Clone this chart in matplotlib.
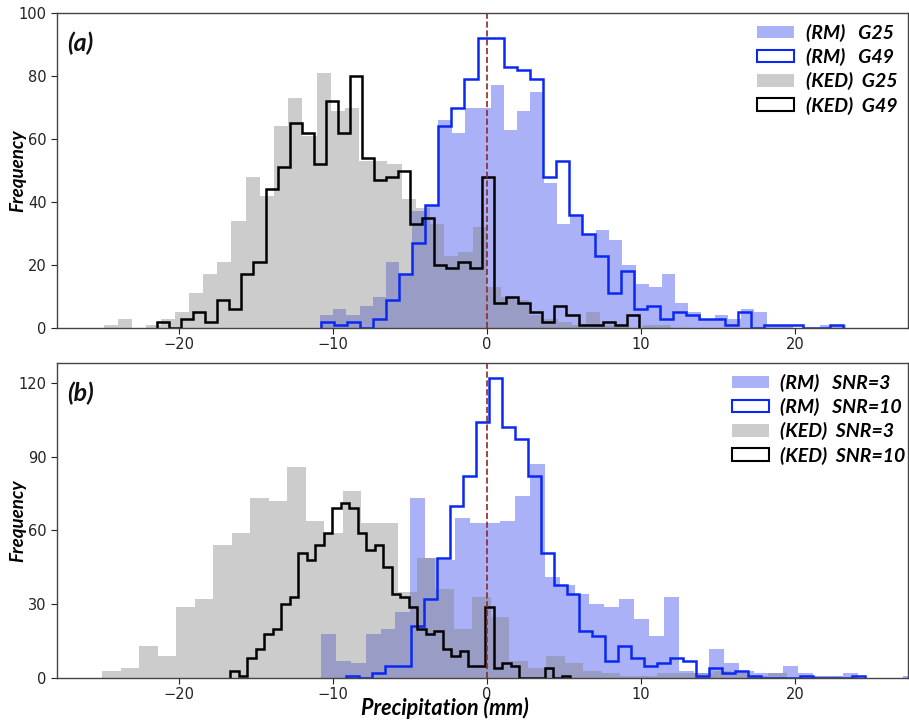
import numpy as np
import matplotlib
matplotlib.use("Agg")
import matplotlib.pyplot as plt
from matplotlib.patches import Patch

# ---------------- Panel (a) data ----------------
rm_g25_start, rm_g25_width = -10.83, 0.853
rm_g25 = [4, 6, 4, 7, 10, 21, 17, 37, 39, 66, 62, 70, 70, 77, 63, 69, 75, 46, 33, 36,
          30, 31, 28, 20, 14, 13, 17, 8, 5, 3, 4, 3, 6, 5, 1, 1, 0, 0, 1, 1]

rm_g49_start, rm_g49_width = -10.77, 0.846
rm_g49 = [2, 1, 2, 0, 3, 9, 17, 27, 39, 64, 70, 79, 92, 92, 83, 82, 79, 48, 53, 36,
          30, 23, 11, 18, 6, 7, 3, 5, 4, 3, 3, 1, 5, 0, 1, 1, 1, 0, 0, 1]

ked_g25_start, ked_g25_width = -24.86, 0.920
ked_g25 = [1, 3, 0, 1, 3, 5, 11, 17, 21, 34, 48, 42, 64, 73, 61, 81, 69, 70, 53, 53,
           52, 41, 38, 33, 23, 24, 32, 13, 10, 9, 4, 3, 2, 1, 5, 1, 1, 0, 1, 1]

ked_g49_start, ked_g49_width = -21.40, 0.781
ked_g49 = [2, 0, 3, 5, 2, 9, 6, 17, 21, 44, 51, 65, 62, 52, 72, 62, 80, 54, 47, 48,
           50, 33, 35, 20, 19, 21, 19, 48, 8, 10, 8, 5, 2, 7, 4, 1, 1, 2, 1, 4]

# ---------------- Panel (b) data ----------------
rm_s3_start, rm_s3_width = -10.78, 0.968
rm_s3 = [18, 7, 6, 18, 20, 27, 73, 49, 48, 65, 63, 63, 64, 74, 87, 41, 38, 34, 30, 29,
         32, 24, 17, 33, 3, 2, 12, 6, 3, 2, 2, 5, 2, 1, 1, 2, 0, 0, 0, 1]

rm_s10_start, rm_s10_width = -9.14, 0.841
rm_s10 = [1, 0, 2, 5, 5, 21, 32, 49, 70, 82, 104, 122, 102, 97, 82, 51, 38, 34, 19, 17,
          7, 13, 8, 5, 6, 8, 7, 1, 4, 2, 3, 1, 0, 0, 0, 1, 0, 0, 0, 1]

ked_s3_start, ked_s3_width = -24.97, 1.20
ked_s3 = [3, 4, 13, 9, 29, 32, 54, 59, 73, 72, 86, 64, 59, 76, 63, 63, 35, 49, 36, 20,
          33, 25, 7, 4, 9, 6, 3, 2, 1, 1, 2, 2, 2, 3, 2, 1, 2, 0, 1, 1]

ked_s10_start, ked_s10_width = -16.65, 0.551
ked_s10 = [3, 1, 8, 12, 18, 20, 30, 33, 51, 48, 54, 59, 69, 71, 69, 59, 52, 54, 45, 34,
           33, 29, 20, 18, 19, 12, 9, 11, 5, 5, 29, 4, 6, 5, 0, 0, 0, 4, 0, 1]

labels_a = ["(RM)   G25", "(RM)   G49", "(KED)  G25", "(KED)  G49"]
labels_b = ["(RM)   SNR=3", "(RM)   SNR=10", "(KED)  SNR=3", "(KED)  SNR=10"]

FILL_BLUE = (0.0, 0.08, 0.9, 0.33)
GRAY = (0.5, 0.5, 0.5, 0.4)
LINE_BLUE = "#0a28f0"

FONT = ["Lato", "DejaVu Sans"]


def edges(start, width, n):
    return start + width * np.arange(n + 1)


def draw_hist(ax, start, width, counts, **kw):
    e = edges(start, width, len(counts))
    centers = (e[:-1] + e[1:]) / 2
    ax.hist(centers, bins=e, weights=counts, **kw)


fig = plt.figure(figsize=(9.09, 7.21), dpi=100)
ax_a = fig.add_axes([0.0627, 0.545, 0.936, 0.437])
ax_b = fig.add_axes([0.0627, 0.0596, 0.936, 0.437])

panels = [
    (ax_a, (rm_g25_start, rm_g25_width, rm_g25), (rm_g49_start, rm_g49_width, rm_g49),
     (ked_g25_start, ked_g25_width, ked_g25), (ked_g49_start, ked_g49_width, ked_g49),
     labels_a, "(a)", (0, 100), [0, 20, 40, 60, 80, 100], (1.0, 1.0)),
    (ax_b, (rm_s3_start, rm_s3_width, rm_s3), (rm_s10_start, rm_s10_width, rm_s10),
     (ked_s3_start, ked_s3_width, ked_s3), (ked_s10_start, ked_s10_width, ked_s10),
     labels_b, "(b)", (0, 128.1), [0, 30, 60, 90, 120], (1.01, 1.0)),
]

for ax, rmf, rml, kedf, kedl, labs, tag, ylim, yt, anchor in panels:
    draw_hist(ax, *rmf, histtype="stepfilled", color=FILL_BLUE, linewidth=0)
    draw_hist(ax, *rml, histtype="step", color=LINE_BLUE, linewidth=1.8)
    draw_hist(ax, *kedf, histtype="stepfilled", color=GRAY, linewidth=0)
    draw_hist(ax, *kedl, histtype="step", color="black", linewidth=1.8)
    ax.axvline(0, color="#8b2a2a", linestyle="--", linewidth=1.2)
    ax.set_xlim(-27.9, 27.3)
    ax.set_ylim(*ylim)
    ax.set_yticks(yt)
    ax.set_xticks([-20, -10, 0, 10, 20])
    ax.tick_params(labelsize=10.5, length=4, colors="#222222")
    ax.tick_params(axis="x", pad=2.5)
    for s in ax.spines.values():
        s.set_color("#444444")
        s.set_linewidth(1.0)
    ax.set_ylabel("Frequency", fontsize=13.5, fontweight="bold", fontstyle="italic",
                  family=FONT)
    ax.yaxis.set_label_coords(-0.036, 0.5)
    ax.text(0.012, 0.94, tag, transform=ax.transAxes, fontsize=18, fontweight="bold",
            fontstyle="italic", family=FONT, va="top", ha="left", color="#111111")
    handles = [Patch(facecolor=FILL_BLUE, edgecolor="none"),
               Patch(facecolor="white", edgecolor=LINE_BLUE, linewidth=1.5),
               Patch(facecolor=GRAY, edgecolor="none"),
               Patch(facecolor="white", edgecolor="black", linewidth=1.5)]
    ax.legend(handles, labs, loc="upper right", bbox_to_anchor=anchor, frameon=False,
              prop={"family": FONT, "weight": "bold", "style": "italic", "size": 14},
              handlelength=1.9, handleheight=0.6, labelspacing=0.32,
              borderaxespad=0.15, handletextpad=0.6)

ax_b.set_xlabel("Precipitation (mm)", fontsize=15.5, fontweight="bold", fontstyle="italic",
                family=FONT)
ax_b.xaxis.set_label_coords(0.456, -0.117)
ax_b.xaxis.label.set_va("baseline")

fig.savefig("out.png", dpi=100)
